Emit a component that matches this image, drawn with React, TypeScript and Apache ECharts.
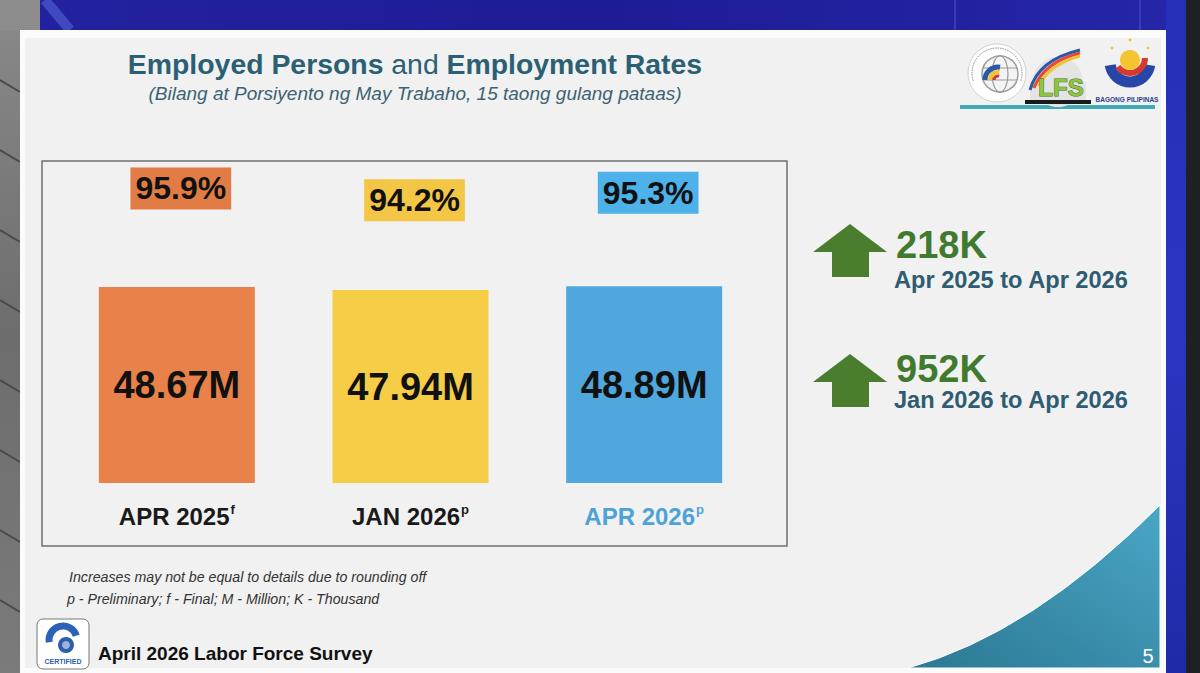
import React, { useEffect, useRef } from 'react';
import * as echarts from 'echarts';

// ---------- data ----------
const categories = ['APR 2025', 'JAN 2026', 'APR 2026'];
const categorySuperscripts = ['f', 'p', 'p'];
const employedMillions = [48.67, 47.94, 48.89];
const employmentRates = [95.9, 94.2, 95.3];
const changeValues = ['218K', '952K'];
const changePeriods = ['Apr 2025 to Apr 2026', 'Jan 2026 to Apr 2026'];
const footnotes = [
  'Increases may not be equal to details due to rounding off',
  'p - Preliminary; f - Final; M - Million; K - Thousand',
];
const titleBold1 = 'Employed Persons';
const titleMiddle = ' and ';
const titleBold2 = 'Employment Rates';
const subtitleText = '(Bilang at Porsiyento ng May Trabaho, 15 taong gulang pataas)';
const footerText = 'April 2026 Labor Force Survey';
const pageNumber = '5';

// ---------- styles ----------
const FONT = '"Liberation Sans", Arial, Helvetica, sans-serif';
const BAR_COLORS = ['#e8814a', '#f5cd47', '#4fa7dd'];
const RATE_BG = ['#e27c45', '#f4c646', '#4db1ea'];
const TITLE_COLOR = '#2b5f74';
const GREEN = '#4a7d2e';

echarts.graphic.registerShape(
  'tealCurve',
  echarts.graphic.extendPath('M908 668 Q1032 634 1160 505 L1160 668 Z', {})
);

function txt(x: number, y: number, text: string, style: any, z = 1) {
  return {
    type: 'text',
    x,
    y,
    z,
    style: {
      text,
      fontFamily: FONT,
      textAlign: style.align || 'left',
      align: style.align || 'left',
      textVerticalAlign: 'middle',
      verticalAlign: 'middle',
      ...style,
    },
  };
}

function arrow(tipY: number) {
  const baseY = tipY + 28;
  const botY = tipY + 53;
  return {
    type: 'polygon',
    z: 1,
    shape: {
      points: [
        [850, tipY],
        [887, baseY],
        [869, baseY],
        [869, botY],
        [832, botY],
        [832, baseY],
        [813, baseY],
      ],
    },
    style: { fill: GREEN },
  };
}

export default function App() {
  const ref = useRef<HTMLDivElement>(null);

  useEffect(() => {
    if (!ref.current) return;
    const chart = echarts.init(ref.current, undefined, { renderer: 'svg' });

    const graphics: any[] = [
      // top blue band
      {
        type: 'rect', z: 0,
        shape: { x: 0, y: 0, width: 1200, height: 40 },
        style: {
          fill: new echarts.graphic.LinearGradient(0, 0, 1, 0, [
            { offset: 0, color: '#2322a0' },
            { offset: 0.5, color: '#1e1b96' },
            { offset: 1, color: '#2527a8' },
          ]),
        },
      },
      { type: 'line', z: 0, shape: { x1: 45, y1: 0, x2: 70, y2: 30 }, style: { stroke: 'rgba(120,150,255,0.35)', lineWidth: 10 } },
      { type: 'line', z: 0, shape: { x1: 955, y1: 0, x2: 955, y2: 30 }, style: { stroke: 'rgba(140,160,255,0.4)', lineWidth: 1 } },
      { type: 'line', z: 0, shape: { x1: 1140, y1: 0, x2: 1140, y2: 30 }, style: { stroke: 'rgba(140,160,255,0.4)', lineWidth: 1 } },
      // left photo strip
      {
        type: 'rect', z: 0,
        shape: { x: 0, y: 0, width: 24, height: 673 },
        style: {
          fill: new echarts.graphic.LinearGradient(0, 0, 0, 1, [
            { offset: 0, color: '#8a8a8a' },
            { offset: 0.5, color: '#6d6d6d' },
            { offset: 1, color: '#7b7b7b' },
          ]),
        },
      },
      {
        type: 'rect', z: 0,
        shape: { x: 0, y: 0, width: 40, height: 30 },
        style: { fill: '#8c8c8c' },
      },
      ...[80, 150, 230, 300, 380, 450, 530, 600].map((y) => ({
        type: 'line', z: 0,
        shape: { x1: 0, y1: y, x2: 20, y2: y + 12 },
        style: { stroke: '#4a4a4a', lineWidth: 2 },
      })),
      // right strips
      {
        type: 'rect', z: 0,
        shape: { x: 1166, y: 0, width: 20, height: 673 },
        style: {
          fill: new echarts.graphic.LinearGradient(0, 0, 0, 1, [
            { offset: 0, color: '#2530b8' },
            { offset: 0.5, color: '#2a36c0' },
            { offset: 1, color: '#1f2aa8' },
          ]),
        },
      },
      { type: 'rect', z: 0, shape: { x: 1186, y: 0, width: 14, height: 673 }, style: { fill: '#1f2023' } },
      // slide
      { type: 'rect', z: 0, shape: { x: 20, y: 30, width: 1146, height: 643 }, style: { fill: '#fbfbfb' } },
      { type: 'rect', z: 0, shape: { x: 25, y: 38, width: 1136, height: 630 }, style: { fill: '#f1f1f1' } },
      // teal corner
      {
        type: 'tealCurve', z: 1, x: 0, y: 0,
        style: {
          fill: new echarts.graphic.LinearGradient(0, 1, 1, 0, [
            { offset: 0, color: '#2b7893' },
            { offset: 1, color: '#4aa6c6' },
          ]),
          stroke: '#ffffff',
          lineWidth: 1,
        },
      },
      txt(1148, 656, pageNumber, { fontSize: 20, fill: '#ffffff', align: 'center' }, 2),
      // title
      {
        type: 'text', z: 1, x: 415, y: 64,
        style: {
          text: `{b|${titleBold1}}{n|${titleMiddle}}{b|${titleBold2}}`,
          textAlign: 'center', align: 'center',
          textVerticalAlign: 'middle', verticalAlign: 'middle',
          rich: {
            b: { fontFamily: FONT, fontSize: 28.4, fontWeight: 'bold', fill: TITLE_COLOR, color: TITLE_COLOR },
            n: { fontFamily: FONT, fontSize: 28.4, fontWeight: 'normal', fill: TITLE_COLOR, color: TITLE_COLOR },
          },
        },
      },
      txt(415, 93, subtitleText, { fontSize: 19, fontStyle: 'italic', fill: '#3d6274', align: 'center' }),
      // chart box
      {
        type: 'rect', z: 1,
        shape: { x: 42, y: 161, width: 745, height: 385 },
        style: { fill: 'none', stroke: '#6f6f6f', lineWidth: 1.5 },
      },
      // change indicators
      arrow(224),
      arrow(354),
      txt(896, 245, changeValues[0], { fontSize: 38, lineHeight: 30, fontWeight: 'bold', fill: '#3f7a2f' }),
      txt(894, 280, changePeriods[0], { fontSize: 23.6, lineHeight: 20, fontWeight: 'bold', fill: '#2e5c72' }),
      txt(896, 369, changeValues[1], { fontSize: 38, lineHeight: 30, fontWeight: 'bold', fill: '#3f7a2f' }),
      txt(894, 400, changePeriods[1], { fontSize: 23.6, lineHeight: 20, fontWeight: 'bold', fill: '#2e5c72' }),
      // footnotes
      txt(69, 577, footnotes[0], { fontSize: 14.2, fontStyle: 'italic', fill: '#333333' }),
      txt(67, 599, footnotes[1], { fontSize: 14.2, fontStyle: 'italic', fill: '#333333' }),
      // footer
      {
        type: 'rect', z: 1,
        shape: { x: 37, y: 619, width: 52, height: 50, r: 6 },
        style: { fill: '#ffffff', stroke: '#777777', lineWidth: 1 },
      },
      {
        type: 'arc', z: 2,
        shape: { cx: 63, cy: 640, r: 14, startAngle: Math.PI * 0.95, endAngle: Math.PI * 1.9 },
        style: { stroke: '#2b62b8', lineWidth: 7, fill: 'none' },
      },
      { type: 'circle', z: 2, shape: { cx: 66, cy: 645, r: 8 }, style: { fill: '#2b5fae' } },
      { type: 'circle', z: 2, shape: { cx: 66, cy: 645, r: 4 }, style: { fill: '#9fb3d8' } },
      txt(63, 661, 'CERTIFIED', { fontSize: 7, fontWeight: 'bold', fill: '#2b5fae', align: 'center' }, 2),
      txt(98, 653, footerText, { fontSize: 19, fontWeight: 'bold', fill: '#111111' }),
      // logos underline
      { type: 'rect', z: 1, shape: { x: 960, y: 105, width: 195, height: 4 }, style: { fill: '#3fa9b5' } },
      // PSA logo
      { type: 'circle', z: 1, shape: { cx: 997, cy: 73, r: 29 }, style: { fill: '#ffffff', stroke: '#d0d0d0', lineWidth: 1 } },
      { type: 'circle', z: 2, shape: { cx: 1000, cy: 74, r: 18 }, style: { fill: '#f4f4f4', stroke: '#9a9a9a', lineWidth: 1.5 } },
      { type: 'ellipse', z: 2, shape: { cx: 1000, cy: 74, rx: 8, ry: 18 }, style: { fill: 'none', stroke: '#9a9a9a', lineWidth: 1.2 } },
      { type: 'line', z: 2, shape: { x1: 983, y1: 68, x2: 1017, y2: 68 }, style: { stroke: '#9a9a9a', lineWidth: 1.2 } },
      { type: 'line', z: 2, shape: { x1: 983, y1: 80, x2: 1017, y2: 80 }, style: { stroke: '#9a9a9a', lineWidth: 1.2 } },
      { type: 'arc', z: 3, shape: { cx: 998, cy: 80, r: 13, startAngle: Math.PI, endAngle: Math.PI * 1.55 }, style: { stroke: '#2a5aa6', lineWidth: 5, fill: 'none' } },
      { type: 'arc', z: 3, shape: { cx: 998, cy: 80, r: 8, startAngle: Math.PI, endAngle: Math.PI * 1.55 }, style: { stroke: '#f2c230', lineWidth: 4, fill: 'none' } },
      { type: 'arc', z: 3, shape: { cx: 998, cy: 80, r: 4, startAngle: Math.PI, endAngle: Math.PI * 1.6 }, style: { stroke: '#d43a2c', lineWidth: 3, fill: 'none' } },
      { type: 'arc', z: 2, shape: { cx: 997, cy: 73, r: 25, startAngle: Math.PI * 0.9, endAngle: Math.PI * 2.1 }, style: { stroke: '#8a8a8a', lineWidth: 1, fill: 'none', lineDash: [1.5, 1] } },
      // LFS logo
      { type: 'circle', z: 1, shape: { cx: 1058, cy: 82, r: 25 }, style: { fill: '#e4e4e4' } },
      { type: 'rect', z: 1, shape: { x: 1030, y: 82, width: 56, height: 20 }, style: { fill: '#e4e4e4' } },
      { type: 'bezierCurve', z: 2, shape: { x1: 1030, y1: 90, x2: 1080, y2: 50, cpx1: 1038, cpy1: 60 }, style: { stroke: '#2a5aa6', lineWidth: 3, fill: 'none' } },
      { type: 'bezierCurve', z: 2, shape: { x1: 1034, y1: 88, x2: 1080, y2: 53, cpx1: 1044, cpy1: 62 }, style: { stroke: '#e9473a', lineWidth: 3, fill: 'none' } },
      { type: 'bezierCurve', z: 2, shape: { x1: 1038, y1: 86, x2: 1080, y2: 56, cpx1: 1050, cpy1: 64 }, style: { stroke: '#f2c230', lineWidth: 3, fill: 'none' } },
      txt(1061, 87, 'LFS', { fontSize: 24, fontWeight: 'bold', fill: '#8cc63f', stroke: '#3d6b1c', lineWidth: 1, align: 'center' }, 3),
      { type: 'rect', z: 3, shape: { x: 1025, y: 100, width: 66, height: 4 }, style: { fill: '#1a1a1a' } },
      // Bagong Pilipinas logo
      { type: 'circle', z: 2, shape: { cx: 1130, cy: 60, r: 10 }, style: { fill: '#f5c531' } },
      { type: 'arc', z: 2, shape: { cx: 1130, cy: 62, r: 20, startAngle: Math.PI * 0.05, endAngle: Math.PI * 0.95 }, style: { stroke: '#2845a8', lineWidth: 11, fill: 'none' } },
      { type: 'arc', z: 3, shape: { cx: 1130, cy: 58, r: 15, startAngle: Math.PI * 0.0, endAngle: Math.PI * 0.8 }, style: { stroke: '#d63a2e', lineWidth: 6, fill: 'none' } },
      { type: 'circle', z: 2, shape: { cx: 1130, cy: 40, r: 1.5 }, style: { fill: '#f5c531' } },
      { type: 'circle', z: 2, shape: { cx: 1112, cy: 48, r: 1.5 }, style: { fill: '#f5c531' } },
      { type: 'circle', z: 2, shape: { cx: 1148, cy: 48, r: 1.5 }, style: { fill: '#f5c531' } },
      txt(1127, 99, 'BAGONG PILIPINAS', { fontSize: 6.5, fontWeight: 'bold', fill: '#2a3f8a', align: 'center' }, 2),
    ];

    const option: any = {
      animation: false,
      backgroundColor: '#1e1b96',
      graphic: { elements: graphics },
      grid: { left: 60, top: 161, width: 701, height: 322, containLabel: false },
      xAxis: {
        type: 'category',
        data: categories,
        axisLine: { show: false },
        axisTick: { show: false },
        splitLine: { show: false },
        axisLabel: {
          margin: 20,
          interval: 0,
          formatter: (value: string, index: number) => {
            const blue = index === 2 ? 'b' : '';
            return `{m${blue}|${value}}{s${blue}|${categorySuperscripts[index]}}`;
          },
          rich: {
            m: { fontFamily: FONT, fontSize: 24, fontWeight: 'bold', color: '#1a1a1a', lineHeight: 26 },
            s: { fontFamily: FONT, fontSize: 13, fontWeight: 'bold', color: '#1a1a1a', verticalAlign: 'top', lineHeight: 14, padding: [0, 0, 0, 1] },
            mb: { fontFamily: FONT, fontSize: 24, fontWeight: 'bold', color: '#4ea2d6', lineHeight: 26 },
            sb: { fontFamily: FONT, fontSize: 13, fontWeight: 'bold', color: '#4ea2d6', verticalAlign: 'top', lineHeight: 14, padding: [0, 0, 0, 1] },
          },
        },
      },
      yAxis: [
        { type: 'value', min: 0, max: 80, show: false, splitLine: { show: false } },
        { type: 'value', min: 54, max: 99.8, show: false, splitLine: { show: false } },
      ],
      series: [
        {
          type: 'bar',
          barWidth: 156,
          silent: true,
          data: employedMillions.map((v, i) => ({ value: v, itemStyle: { color: BAR_COLORS[i] } })),
          label: {
            show: true,
            position: 'inside',
            formatter: (p: any) => `${Number(p.value).toFixed(2)}M`,
            fontFamily: FONT,
            fontSize: 38,
            fontWeight: 'bold',
            color: '#111111',
          },
        },
        {
          type: 'scatter',
          yAxisIndex: 1,
          silent: true,
          symbol: 'rect',
          symbolSize: 1,
          itemStyle: { color: 'rgba(0,0,0,0)', opacity: 1 },
          z: 3,
          data: employmentRates.map((v, i) => ({ value: v, label: { backgroundColor: RATE_BG[i] } })),
          label: {
            show: true,
            position: 'inside',
            offset: [4, 0],
            formatter: (p: any) => `${Number(p.value).toFixed(1)}%`,
            fontFamily: FONT,
            fontSize: 32,
            fontWeight: 'bold',
            color: '#111111',
            opacity: 1,
            lineHeight: 32,
            padding: [5, 5, 5, 5],
          },
        },
      ],
    };

    chart.setOption(option);
    return () => chart.dispose();
  }, []);

  return (
    <div
      ref={ref}
      style={{ position: 'fixed', left: 0, top: 0, width: 1200, height: 673 }}
    />
  );
}
